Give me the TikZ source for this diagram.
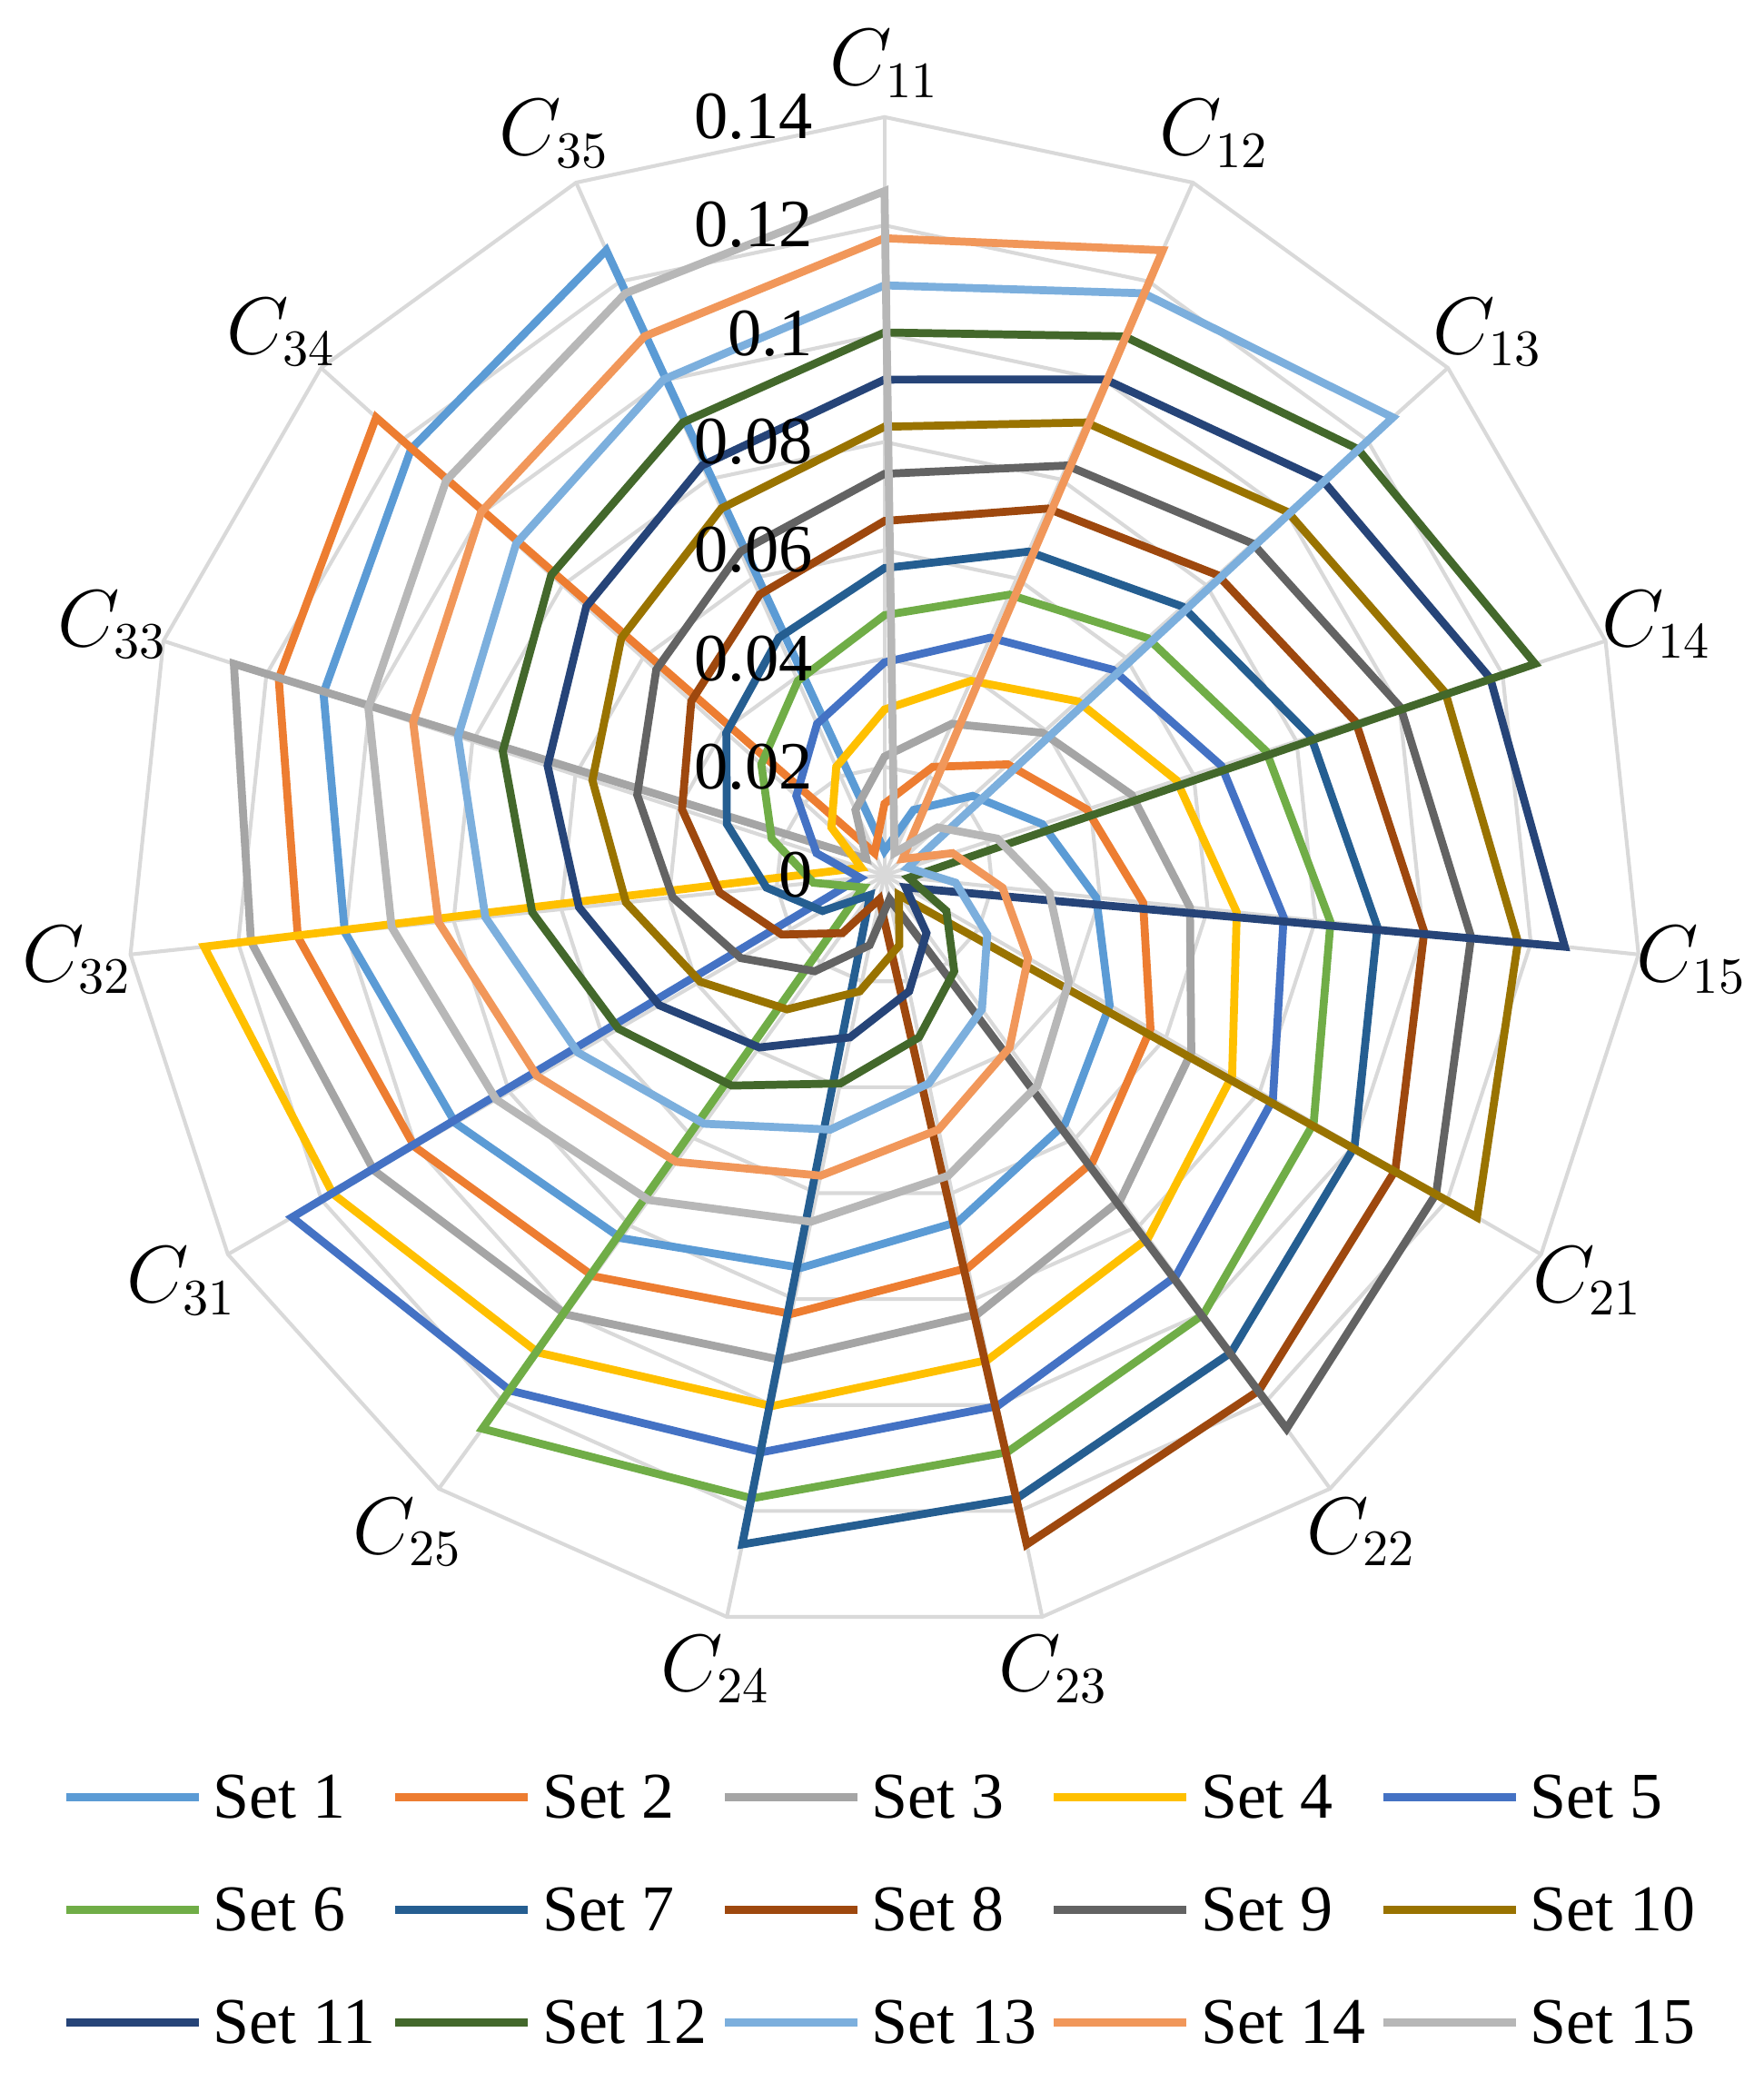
\documentclass[tikz,border=0pt]{standalone}
\usepackage{fontspec}
\setmainfont{Liberation Serif}
\definecolor{s1}{HTML}{5B9BD5}\definecolor{s2}{HTML}{ED7D31}\definecolor{s3}{HTML}{A5A5A5}
\definecolor{s4}{HTML}{FFC000}\definecolor{s5}{HTML}{4472C4}\definecolor{s6}{HTML}{70AD47}
\definecolor{s7}{HTML}{255E91}\definecolor{s8}{HTML}{9E480E}\definecolor{s9}{HTML}{636363}
\definecolor{s10}{HTML}{997300}\definecolor{s11}{HTML}{264478}\definecolor{s12}{HTML}{43682B}
\definecolor{s13}{HTML}{7CAFDD}\definecolor{s14}{HTML}{F1975A}\definecolor{s15}{HTML}{B7B7B7}
\definecolor{grid}{HTML}{D9D9D9}
\begin{document}
\begin{tikzpicture}[x=0.01cm,y=0.01cm,
  gridline/.style={grid,line width=0.8pt},
  serie/.style={line width=1.7pt,line join=miter},
  ticklab/.style={anchor=east,font=\fontsize{14.5}{14.5}\selectfont,inner sep=1pt},
  axlab/.style={font=\fontsize{16}{16}\selectfont},
  leglab/.style={anchor=west,font=\fontsize{14}{14}\selectfont,inner sep=0pt}]
\useasboundingbox (0,0) rectangle (1330,-1570);
\coordinate (O) at (667,-660);
\begin{scope}[shift={(O)}]
  \foreach \v in {0.02,0.04,...,0.141}{
    \draw[gridline] plot[samples at={0,...,14}] ({90-24*\x}:{\v/0.14*572}) -- cycle;}
  \foreach \i in {0,...,14}{
    \draw[gridline] (0,0) -- ({90-24*\i}:572);}
  \foreach \k in {1,...,15}{
    \pgfmathtruncatemacro{\pk}{mod(15-\k,15)}
    \draw[serie,color=s\k] plot[samples at={0,...,14}]
      ({90-24*\x}:{(0.0045+0.0087*mod(\x-\pk+29,15))/0.14*572}) -- cycle;}
  \foreach \t [count=\j from 0] in {0,0.02,0.04,0.06,0.08,0.1,0.12,0.14}{
    \node[ticklab] (t\j) at (-50,{\j*0.02/0.14*572}) {\t};}
  \foreach \lab [count=\i from 0] in {11,12,13,14,15,21,22,23,24,25,31,32,33,34,35}{
    \node[axlab] (c\lab) at ({90-24*\i}:612) {$C_{\lab}$};}
\end{scope}
\foreach \k in {1,...,15}{
  \pgfmathtruncatemacro{\col}{mod(\k-1,5)}
  \pgfmathtruncatemacro{\row}{(\k-1)/5}
  \coordinate (la\k) at ({50+248.3*\col},{-1355-85*\row});
  \coordinate (lb\k) at ({150+248.3*\col},{-1355-85*\row});
  \draw[serie,color=s\k] (la\k) -- (lb\k);
  \node[leglab] (l\k) at ([xshift=0.1cm]lb\k) {Set \k};}
\end{tikzpicture}
\end{document}
